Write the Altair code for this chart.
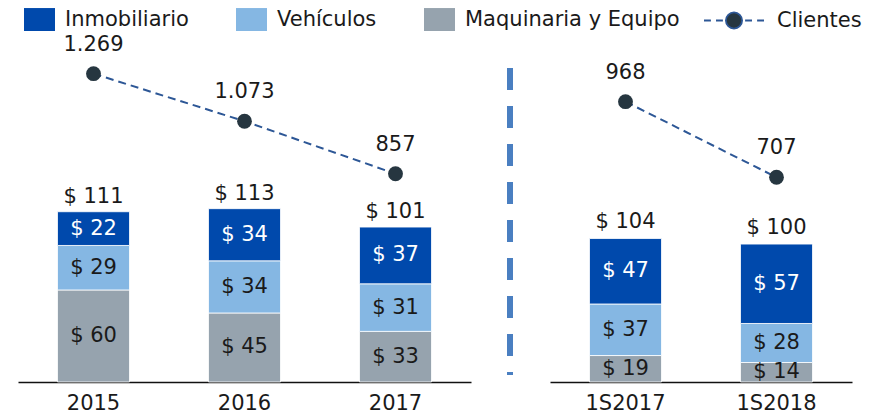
import altair as alt
import pandas as pd

# ---------------- data ----------------
periodos_izq = ["2015", "2016", "2017"]
periodos_der = ["1S2017", "1S2018"]
categorias = ["Inmobiliario", "Vehículos", "Maquinaria y Equipo"]
inmobiliario = [22, 34, 37, 47, 57]
vehiculos = [29, 34, 31, 37, 28]
maquinaria = [60, 45, 33, 19, 14]
totales = [111, 113, 101, 104, 100]
clientes = [1269, 1073, 857, 968, 707]

periodos = periodos_izq + periodos_der
panel = ["izq"] * len(periodos_izq) + ["der"] * len(periodos_der)

rows = []
for i, p in enumerate(periodos):
    for cat, vals, o in [("Maquinaria y Equipo", maquinaria, 0),
                         ("Vehículos", vehiculos, 1),
                         ("Inmobiliario", inmobiliario, 2)]:
        rows.append(dict(periodo=p, panel=panel[i], categoria=cat, valor=vals[i], orden=o))
seg = pd.DataFrame(rows)
tot = pd.DataFrame(dict(periodo=periodos, panel=panel, total=totales,
                        clientes=clientes, serie="Clientes"))

FONT = "DejaVu Sans"
FS = 21
TXT = "#1a1a1a"
colores = ["#0049AC", "#85B7E3", "#96A3AE"]
color_scale = alt.Scale(domain=categorias, range=colores)

legend_cat = alt.Legend(
    title=None, orient="none", legendX=6, legendY=-44, direction="horizontal",
    symbolType="M-1,-0.74H1V0.74H-1Z", symbolSize=961, symbolStrokeWidth=0,
    symbolOpacity=1, labelFontSize=FS, labelFont=FONT, labelColor=TXT,
    labelOffset=10, columnPadding=47, padding=0, labelLimit=400)

cli_path = ("M-1,0H-0.77M-0.6,0H-0.37M0.37,0H0.6M0.77,0H1"
            "M0.27,0A0.27,0.27 0 1,1 -0.27,0A0.27,0.27 0 1,1 0.27,0Z")
legend_cli = alt.Legend(
    title=None, orient="none", legendX=685, legendY=-58.5,
    symbolType=cli_path, symbolSize=3600, symbolStrokeWidth=1.8,
    symbolFillColor="#263640", symbolStrokeColor="#2D5796",
    labelFontSize=FS, labelFont=FONT, labelColor=TXT, labelOffset=12, padding=0,
    labelLimit=400)

PI = 0.523


def make_panel(pname, dom, xrange, bar_max, cli_max):
    xs = alt.Scale(domain=dom, range=xrange, paddingInner=PI, paddingOuter=PI / 2)
    x_axis = alt.X("periodo:N", scale=xs, sort=dom, title=None,
                   axis=alt.Axis(orient="bottom", labelAngle=0, ticks=False, tickSize=0,
                                 labelPadding=10, domainColor="#111", domainWidth=1.5,
                                 labelFontSize=FS, labelFont=FONT, labelColor=TXT,
                                 grid=False))
    x_no = alt.X("periodo:N", scale=xs, sort=dom, axis=None)
    yb = alt.Scale(domain=[0, bar_max], nice=False)
    yc = alt.Scale(domain=[0, cli_max], nice=False)
    sd = seg[seg.panel == pname]
    td = tot[tot.panel == pname]

    bars = alt.Chart(sd).mark_bar(stroke="white", strokeWidth=0.8).encode(
        x=x_axis,
        y=alt.Y("valor:Q", stack="zero", scale=yb, axis=None),
        color=alt.Color("categoria:N", scale=color_scale, legend=legend_cat),
        order=alt.Order("orden:Q"),
    )
    segtext = alt.Chart(sd).transform_stack(
        stack="valor", groupby=["periodo"], as_=["y0", "y1"],
        sort=[alt.SortField("orden", order="ascending")],
    ).transform_calculate(
        mid="(datum.y0 + datum.y1) / 2", label="'$ ' + datum.valor"
    ).mark_text(font=FONT, fontSize=FS, baseline="middle").encode(
        x=x_no,
        y=alt.Y("mid:Q", scale=yb, axis=None),
        text="label:N",
        color=alt.condition("datum.categoria == 'Inmobiliario'",
                            alt.value("white"), alt.value(TXT)),
    )
    tottext = alt.Chart(td).transform_calculate(
        label="'$ ' + datum.total"
    ).mark_text(font=FONT, fontSize=FS, baseline="alphabetic", dy=-9, color=TXT).encode(
        x=x_no, y=alt.Y("total:Q", scale=yb, axis=None), text="label:N")
    line = alt.Chart(td).mark_line(strokeDash=[8, 5], strokeWidth=2).encode(
        x=x_no,
        y=alt.Y("clientes:Q", scale=yc, axis=None),
        stroke=alt.Stroke("serie:N", scale=alt.Scale(domain=["Clientes"], range=["#2D5796"]),
                          legend=legend_cli),
    )
    pts = alt.Chart(td).mark_circle(size=220, color="#263640", opacity=1).encode(
        x=x_no, y=alt.Y("clientes:Q", scale=yc, axis=None))
    ctext = alt.Chart(td).transform_calculate(
        clabel="replace(format(datum.clientes, ','), ',', '.')"
    ).mark_text(font=FONT, fontSize=FS, baseline="alphabetic", dy=-23, color=TXT).encode(
        x=x_no, y=alt.Y("clientes:Q", scale=yc, axis=None), text="clabel:N")
    return [bars, segtext, tottext, line, pts, ctext]


H = 334
left = make_panel("izq", periodos_izq, [0, 453], H / 1.534, H / 0.243)
right = make_panel("der", periodos_der, [532, 834], H / 1.393, H / 0.2896)

sep = alt.Chart(pd.DataFrame({"a": [0]})).mark_rule(
    color="#4A7FC1", strokeWidth=6, strokeDash=[22, 16], strokeCap="butt"
).encode(x=alt.value(492), y=alt.value(20), y2=alt.value(327))

chart = alt.layer(*left, *right, sep).resolve_scale(
    x="independent", y="independent"
).properties(
    width=834, height=H,
    padding={"left": 10, "top": 40, "right": 10, "bottom": 34},
    autosize=alt.AutoSizeParams(type="none"),
).configure(font=FONT).configure_view(stroke=None)

chart.save("out.html", embed_options={"renderer": "svg", "actions": False})
